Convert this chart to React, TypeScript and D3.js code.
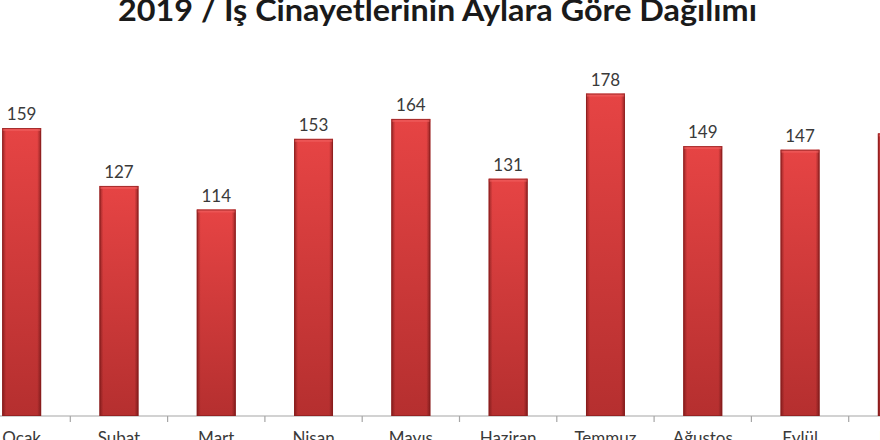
import React from "react";
import * as d3 from "d3";

const months = ["Ocak", "Şubat", "Mart", "Nisan", "Mayıs", "Haziran", "Temmuz", "Ağustos", "Eylül", "Ekim"];
const values = [159, 127, 114, 153, 164, 131, 178, 149, 147, 156];
const showLabel = [true, true, true, true, true, true, true, true, true, false];
const title = "2019 / İş Cinayetlerinin Aylara Göre Dağılımı";

const W = 880;
const H = 440;
const baseY = 416;

export default function App() {
  const x = d3
    .scaleBand<string>()
    .domain(months)
    .range([-27, -27 + 97.3 * months.length])
    .paddingInner(0.6)
    .paddingOuter(0.3);
  const y = d3.scaleLinear().domain([0, 159]).range([baseY, 128]);
  const step = x.step();
  const bw = x.bandwidth();

  return (
    <svg
      width={W}
      height={H}
      style={{ position: "absolute", left: 0, top: 0, background: "#fff" }}
    >
      <defs>
        <linearGradient id="vert" x1="0" y1="0" x2="0" y2="1">
          <stop offset="0%" stopColor="#e64444" />
          <stop offset="100%" stopColor="#b52f2f" />
        </linearGradient>
        <linearGradient id="horiz" x1="0" y1="0" x2="1" y2="0">
          <stop offset="0%" stopColor="#5a0f0f" stopOpacity="0.55" />
          <stop offset="10%" stopColor="#5a0f0f" stopOpacity="0" />
          <stop offset="90%" stopColor="#5a0f0f" stopOpacity="0" />
          <stop offset="100%" stopColor="#5a0f0f" stopOpacity="0.6" />
        </linearGradient>
      </defs>
      <text
        x={118}
        y={21}
        textLength={639}
        lengthAdjust="spacingAndGlyphs"
        fontFamily="Lato, 'Open Sans', sans-serif"
        fontWeight="bold"
        fontSize={30}
        fill="#1a1a1a"
      >
        {title}
      </text>
      <line x1={0} x2={W} y1={baseY} y2={baseY} stroke="#a6a6a6" strokeWidth={1.2} />
      {months.map((m, i) => {
        const slotStart = (x(m) as number) + bw / 2 - step / 2;
        return (
          <line
            key={"t" + m}
            x1={slotStart + step}
            x2={slotStart + step}
            y1={baseY}
            y2={baseY + 6}
            stroke="#a6a6a6"
            strokeWidth={1.2}
          />
        );
      })}
      {months.map((m, i) => {
        const bx = x(m) as number;
        const top = y(values[i]);
        return (
          <g key={m}>
            <rect x={bx} y={top} width={bw} height={baseY - top} fill="url(#vert)" />
            <rect x={bx} y={top} width={bw} height={baseY - top} fill="url(#horiz)" />
            <rect x={bx} y={top} width={bw} height={3} fill="#f06060" opacity={0.6} />
            <rect
              x={bx + 0.5}
              y={top + 0.5}
              width={bw - 1}
              height={baseY - top - 1}
              fill="none"
              stroke="#8a1c1c"
              strokeWidth={1}
              opacity={0.7}
            />
            {showLabel[i] && (
              <text
                x={bx + bw / 2}
                y={top - 8}
                textAnchor="middle"
                fontFamily="Lato, 'Open Sans', sans-serif"
                fontSize={17}
                fill="#3a3a3a"
              >
                {values[i]}
              </text>
            )}
            <text
              x={bx + bw / 2}
              y={baseY + 28}
              textAnchor="middle"
              fontFamily="Lato, 'Open Sans', sans-serif"
              fontSize={17}
              fill="#3a3a3a"
            >
              {m}
            </text>
          </g>
        );
      })}
    </svg>
  );
}
